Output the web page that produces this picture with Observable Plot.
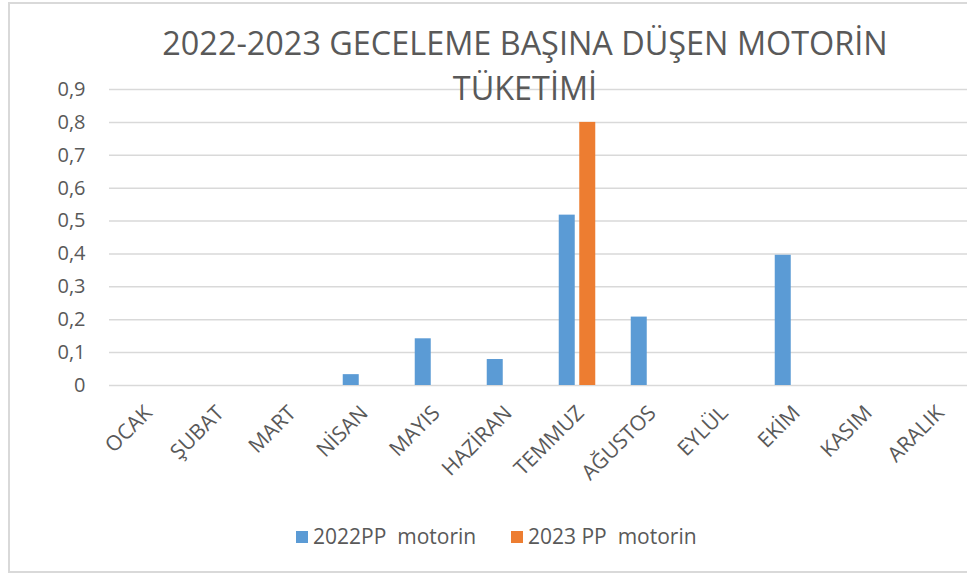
<!DOCTYPE html>
<html>
<head>
<meta charset="utf-8">
<script src="https://cdn.jsdelivr.net/npm/d3@7"></script>
<script src="https://cdn.jsdelivr.net/npm/@observablehq/plot@0.6"></script>
<style>
  html, body { margin: 0; padding: 0; background: #fff; overflow: hidden; width: 967px; height: 577px; }
  #frame { position: absolute; left: 8px; top: 2px; width: 1000px; height: 571px; border: 2px solid #d9d9d9; box-sizing: border-box; }
  #chart { position: absolute; left: 0; top: 0; width: 975px; }
  #chart svg { max-width: none !important; }
  .title { position: absolute; left: 525px; transform: translateX(-50%); white-space: nowrap; font-family: "Open Sans", sans-serif; font-size: 32.4px; line-height: 44px; color: #595959; }
  .legend { position: absolute; top: 524px; font-family: "Open Sans", sans-serif; font-size: 21px; line-height: 24px; color: #595959; white-space: pre; }
  .sw { position: absolute; width: 12px; height: 12px; top: 531px; }
</style>
</head>
<body>
<div id="frame"></div>
<div id="chart"></div>
<div class="title" style="top:20px">2022-2023 GECELEME BAŞINA DÜŞEN MOTORİN</div>
<div class="title" style="top:65px">TÜKETİMİ</div>
<div id="legend"></div>
<script>
const months = ["OCAK","ŞUBAT","MART","NİSAN","MAYIS","HAZİRAN","TEMMUZ","AĞUSTOS","EYLÜL","EKİM","KASIM","ARALIK"];
const seriesNames = ["2022PP  motorin", "2023 PP  motorin"];
const values2022 = [null, null, null, 0.033, 0.142, 0.079, 0.518, 0.208, null, 0.396, null, null];
const values2023 = [null, null, null, null, null, null, 0.8, null, null, null, null, null];
const yTicks = [0, 0.1, 0.2, 0.3, 0.4, 0.5, 0.6, 0.7, 0.8, 0.9];
const yTickLabels = ["0", "0,1", "0,2", "0,3", "0,4", "0,5", "0,6", "0,7", "0,8", "0,9"];
const colors = ["#5B9BD5", "#ED7D31"];

const data = [];
months.forEach((m, i) => {
  data.push({month: m, series: seriesNames[0], value: values2022[i]});
  data.push({month: m, series: seriesNames[1], value: values2023[i]});
});

const chart = Plot.plot({
  width: 975,
  height: 480,
  marginLeft: 109,
  marginRight: 2,
  marginTop: 89,
  marginBottom: 95,
  style: {fontFamily: "Open Sans", fontSize: "20px", color: "#595959", background: "transparent", overflow: "visible", maxWidth: "none"},
  facet: {data: data, x: "month"},
  fx: {domain: months, padding: 0, round: false, label: null, axis: null},
  x: {domain: seriesNames, axis: null, round: false, paddingInner: 0.22, paddingOuter: 0.865},
  y: {domain: [0, 0.9], ticks: yTicks, tickFormat: d => yTickLabels[yTicks.indexOf(d)], tickSize: 0, tickPadding: 24, label: null},
  color: {domain: seriesNames, range: colors},
  marks: [
    Plot.ruleY(yTicks, {stroke: "#d9d9d9", strokeWidth: 1.5}),
    Plot.barY(data, {x: "series", y: "value", fill: "series", filter: d => d.value != null}),
    Plot.text(data, {
      filter: d => d.series === seriesNames[0],
      text: "month",
      frameAnchor: "bottom",
      rotate: -45,
      textAnchor: "end",
      lineAnchor: "middle",
      fontSize: 21,
      fill: "#595959",
      dx: 3,
      dy: 24
    })
  ]
});
document.getElementById("chart").appendChild(chart);

const legend = document.getElementById("legend");
const legendX = [296, 511];
seriesNames.forEach((s, i) => {
  const sw = document.createElement("div");
  sw.className = "sw";
  sw.style.left = legendX[i] + "px";
  sw.style.background = colors[i];
  legend.appendChild(sw);
  const t = document.createElement("div");
  t.className = "legend";
  t.style.left = (legendX[i] + 17) + "px";
  t.textContent = s;
  legend.appendChild(t);
});
</script>
</body>
</html>
